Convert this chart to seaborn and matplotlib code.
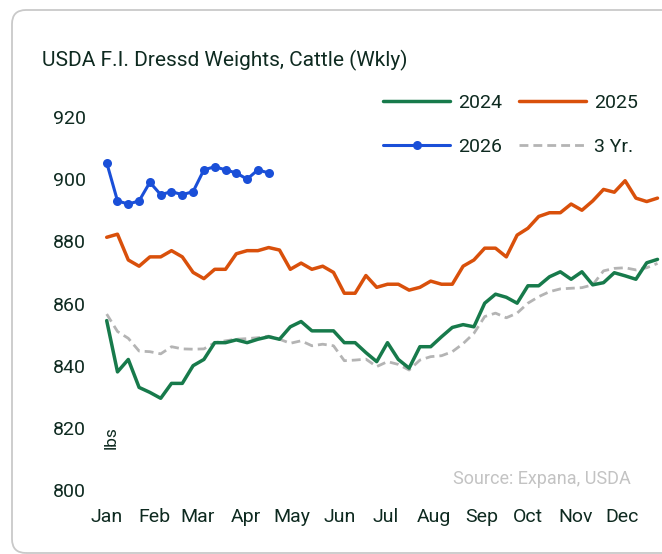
import numpy as np
import pandas as pd
import matplotlib
matplotlib.use("Agg")
import matplotlib.pyplot as plt
import seaborn as sns
from matplotlib.patches import FancyBboxPatch
from matplotlib.transforms import IdentityTransform
from matplotlib.lines import Line2D

# ---- data (weekly, lbs) ----
y2024 = [854.5, 838, 842, 833, 831.4, 829.5, 834.3, 834.3, 840, 842, 847.4, 847.4, 848.3, 847.4,
         848.5, 849.3, 848.5, 852.5, 854.2, 851.2, 851.2, 851.2, 847.4, 847.4, 844.2, 841.3,
         847.4, 842, 839.2, 846.1, 846.1, 849.3, 852.3, 853.2, 852.5, 860.1, 863, 862, 860.1,
         865.7, 865.7, 868.6, 870.2, 867.8, 870.2, 866, 866.7, 869.9, 868.9, 867.8, 873.1, 874.2]
y2025 = [881.3, 882.3, 874, 872, 875, 875, 877, 875, 870, 868, 871, 871, 876, 877, 877, 878,
         877.2, 871, 873, 871, 872, 870, 863.3, 863.3, 869, 865.2, 866.2, 866.2, 864.3, 865.2,
         867.2, 866.2, 866.2, 872, 874, 877.8, 877.8, 875, 882, 884.2, 888, 889.2, 889.2, 892,
         890, 893, 896.7, 895.8, 899.5, 893.9, 892.8, 893.9]
y2026 = [905.3, 893, 892, 893, 899, 895, 896, 895, 896, 903, 904, 903, 902, 900, 903, 902]
y3yr = [856.6, 851, 848.8, 844.7, 844.5, 843.8, 846.1, 845.4, 845.3, 845.4, 847.4, 848, 848.5,
        848.7, 849, 849.5, 848.5, 847.2, 848, 846.4, 846.9, 846.4, 841.6, 841.8, 842.1, 839.7,
        841.3, 840.4, 838.6, 841.8, 842.9, 843.2, 844.5, 847.1, 850.4, 855.8, 856.9, 855.4,
        856.9, 860.1, 862.2, 863.8, 864.7, 864.9, 865.1, 866, 870.5, 871.3, 871.5, 870.8,
        871.5, 872.9]
months = ["Jan", "Feb", "Mar", "Apr", "May", "Jun", "Jul", "Aug", "Sep", "Oct", "Nov", "Dec"]
month_start_day = [0, 31, 59, 90, 120, 151, 181, 212, 243, 273, 304, 334]
yticks = [800, 820, 840, 860, 880, 900, 920]

C24 = "#177a4b"
C25 = "#d9500b"
C26 = "#1a4fd8"
C3 = "#b4b4b4"
TXT = "#0e2a20"

sns.set_theme(style="white")
plt.rcParams["font.family"] = ["Roboto", "DejaVu Sans"]

W, H = 662, 554
fig = plt.figure(figsize=(W / 100, H / 100), dpi=100)
ax = fig.add_axes([100 / W, (H - 490) / H, 560 / W, 373 / H])

def frame(name, vals):
    return pd.DataFrame({"week": np.arange(len(vals)), "value": vals, "series": name})

sns.lineplot(data=frame("3 Yr.", y3yr), x="week", y="value", ax=ax, color=C3, lw=2.0,
             dashes=False, linestyle=(0, (3.2, 1.8)), clip_on=False)
sns.lineplot(data=frame("2024", y2024), x="week", y="value", ax=ax, color=C24, lw=2.5, clip_on=False)
sns.lineplot(data=frame("2025", y2025), x="week", y="value", ax=ax, color=C25, lw=2.5, clip_on=False)
sns.lineplot(data=frame("2026", y2026), x="week", y="value", ax=ax, color=C26, lw=2.2,
             marker="o", markersize=6.5, markeredgewidth=0, clip_on=False)

ax.set_xlim(-0.62, 51.23)
ax.set_ylim(800, 920)
ax.set_xticks([d / 7 for d in month_start_day])
ax.set_xticklabels(months)
ax.set_yticks(yticks)
ax.tick_params(axis="both", length=0, labelsize=14, colors=TXT)
ax.tick_params(axis="y", pad=10)
ax.tick_params(axis="x", pad=13)
ax.set_xlabel("")
ax.set_ylabel("")
for s in ax.spines.values():
    s.set_visible(False)
ax.grid(False)
ax.patch.set_alpha(0)

handles = [
    Line2D([], [], color=C24, lw=2.5),
    Line2D([], [], color=C25, lw=2.5),
    Line2D([], [], color=C26, lw=2.2, marker="o", markersize=6.5, markevery=[1],
           markeredgewidth=0),
    Line2D([], [], color=C3, lw=2.0, linestyle=(0, (3.2, 1.8))),
]
labels = ["2024", "2025", "2026", "3 Yr."]
order = [0, 2, 1, 3]
leg = fig.legend([handles[i] for i in order], [labels[i] for i in order], ncol=2,
                 loc="upper left", bbox_to_anchor=(383 / W, 1 - 94 / H), frameon=False,
                 fontsize=14, handlelength=3.45, handletextpad=0.41, columnspacing=0.85,
                 labelspacing=1.35, borderpad=0, borderaxespad=0)
for t in leg.get_texts():
    t.set_color(TXT)

fig.text(42 / W, 1 - 60 / H, "USDA F.I. Dressd Weights, Cattle (Wkly)", fontsize=15,
         color=TXT, ha="left", va="center")
fig.text(111 / W, 1 - 438 / H, "lbs", fontsize=12.5, color=TXT, rotation=90,
         ha="center", va="center")
fig.text(631 / W, 1 - 479 / H, "Source: Expana, USDA", fontsize=13, color="#c3c3c3",
         ha="right", va="center")

card = FancyBboxPatch((12, 1), 720, 543, boxstyle="round,pad=0,rounding_size=14",
                      transform=IdentityTransform(), facecolor="none",
                      edgecolor="#c9c9c9", lw=1.3)
fig.add_artist(card)

fig.savefig("out.png", dpi=100)
